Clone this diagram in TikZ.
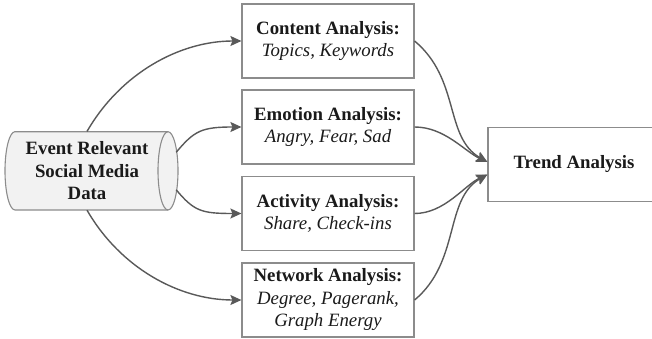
\documentclass[tikz,border=0pt]{standalone}
\usepackage{fontspec}
\setmainfont{Liberation Serif}
\usetikzlibrary{arrows.meta,calc}
\definecolor{edgegray}{HTML}{595959}
\definecolor{boxline}{HTML}{8C8C8C}
\definecolor{cylfill}{HTML}{F2F2F2}
\definecolor{ink}{HTML}{1A1A1A}

\begin{document}
\begin{tikzpicture}[x=1pt,y=1pt,
  txt/.style={text=ink, align=center, font=\fontsize{18.8}{22.5}\selectfont, inner sep=0pt},
  box/.style={txt, draw=boxline, line width=1.2pt, fill=white,
              minimum width=172pt, minimum height=74pt},
  arr/.style={draw=edgegray, line width=1.4pt,
              -{Stealth[length=11pt,width=10pt,inset=2pt]}},
]
\useasboundingbox (0,0) rectangle (652,338);

% source cylinder (horizontal, visible end on the right)
\fill[cylfill] (15,206.3) -- (168,206.3)
  arc[start angle=90,end angle=-90,x radius=10,y radius=39.15]
  -- (15,128) arc[start angle=270,end angle=90,x radius=10,y radius=39.15] -- cycle;
\draw[boxline, line width=1.1pt] (15,206.3) -- (168,206.3)
  arc[start angle=90,end angle=-90,x radius=10,y radius=39.15]
  -- (15,128) arc[start angle=270,end angle=90,x radius=10,y radius=39.15] -- cycle;
\draw[boxline, line width=1.1pt] (168,206.3)
  arc[start angle=90,end angle=270,x radius=10,y radius=39.15];
\node[txt, minimum width=164pt, minimum height=78.3pt] (src) at (87,167.2)
  {\textbf{Event Relevant}\\\textbf{Social Media}\\\textbf{Data}};

% analysis boxes
\node[box] (content)  at (328,297)  {\textbf{Content Analysis:}\\\textit{Topics, Keywords}};
\node[box] (emotion)  at (328,211)  {\textbf{Emotion Analysis:}\\\textit{Angry, Fear, Sad}};
\node[box] (activity) at (328,124.5){\textbf{Activity Analysis:}\\\textit{Share, Check-ins}};
\node[box] (network)  at (328,38)   {\textbf{Network Analysis:}\\\textit{Degree, Pagerank,}\\\textit{Graph Energy}};
\node[box] (trend)    at (574,173.7){\textbf{Trend Analysis}};

% source to analyses
\draw[arr] (src.north) to[out=60,in=180,out distance=67pt,in distance=62pt] (content.west);
\draw[arr] ($(src.east)+(7,18.5)$) to[out=50,in=180,out distance=28pt,in distance=40pt] (emotion.west);
\draw[arr] ($(src.east)+(7,-19)$) to[out=-50,in=180,out distance=28pt,in distance=40pt] (activity.west);
\draw[arr] (src.south) to[out=-60,in=180,out distance=67pt,in distance=62pt] (network.west);

% analyses to trend
\draw[arr] (content.east)  to[out=-40,in=150,out distance=60pt,in distance=50pt] ($(trend.west)+(0,2.3)$);
\draw[arr] (emotion.east)  to[out=0,in=155,out distance=30pt,in distance=25pt] ($(trend.west)+(0,2.3)$);
\draw[arr] (activity.east) to[out=0,in=205,out distance=30pt,in distance=25pt] ($(trend.west)+(0,-10.2)$);
\draw[arr] (network.east)  to[out=40,in=210,out distance=60pt,in distance=50pt] ($(trend.west)+(0,-10.2)$);
\end{tikzpicture}
\end{document}
